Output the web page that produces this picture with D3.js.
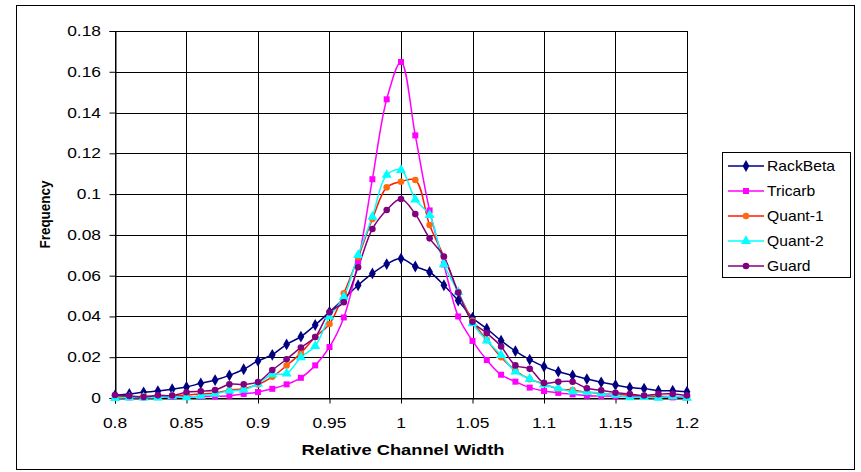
<!DOCTYPE html>
<html><head><meta charset="utf-8">
<script src="https://cdn.jsdelivr.net/npm/d3@7"></script>
<style>
html,body{margin:0;padding:0;background:#fff;}
svg{display:block;font-family:"Liberation Sans",Arial,sans-serif;}
</style></head>
<body><svg id="c" width="861" height="472"></svg>
<script>
const xValues = [0.80,0.81,0.82,0.83,0.84,0.85,0.86,0.87,0.88,0.89,0.90,0.91,0.92,0.93,0.94,0.95,0.96,0.97,0.98,0.99,1.00,1.01,1.02,1.03,1.04,1.05,1.06,1.07,1.08,1.09,1.10,1.11,1.12,1.13,1.14,1.15,1.16,1.17,1.18,1.19,1.20];
const rackBeta = [0.0013,0.0020,0.0028,0.0034,0.0043,0.0054,0.0072,0.0088,0.0111,0.0141,0.0182,0.0212,0.0263,0.0301,0.0358,0.0422,0.0487,0.0553,0.0611,0.0657,0.0684,0.0645,0.0618,0.0553,0.0478,0.0394,0.0340,0.0281,0.0230,0.0188,0.0154,0.0129,0.0111,0.0093,0.0077,0.0064,0.0051,0.0046,0.0036,0.0036,0.0031];
const tricarb = [0.0002,0.0003,0.0003,0.0004,0.0005,0.0006,0.0007,0.0008,0.0011,0.0020,0.0029,0.0045,0.0067,0.0099,0.0160,0.0250,0.0395,0.0668,0.1073,0.1465,0.1648,0.1288,0.0920,0.0655,0.0400,0.0280,0.0186,0.0114,0.0080,0.0051,0.0034,0.0025,0.0018,0.0011,0.0010,0.0008,0.0006,0.0005,0.0004,0.0003,0.0003];
const quant1 = [0.0005,0.0007,0.0008,0.0010,0.0012,0.0015,0.0020,0.0025,0.0038,0.0046,0.0066,0.0104,0.0159,0.0220,0.0299,0.0363,0.0513,0.0690,0.0878,0.1033,0.1061,0.1069,0.0848,0.0693,0.0521,0.0380,0.0284,0.0200,0.0135,0.0092,0.0069,0.0044,0.0039,0.0028,0.0023,0.0018,0.0015,0.0010,0.0008,0.0007,0.0005];
const quant2 = [0.0000,0.0002,0.0002,0.0002,0.0008,0.0003,0.0011,0.0020,0.0036,0.0040,0.0070,0.0116,0.0120,0.0200,0.0255,0.0399,0.0496,0.0701,0.0889,0.1094,0.1118,0.0973,0.0897,0.0656,0.0520,0.0366,0.0282,0.0210,0.0129,0.0094,0.0066,0.0048,0.0031,0.0029,0.0023,0.0016,0.0003,0.0004,0.0001,0.0008,0.0001];
const guard = [0.0015,0.0010,0.0005,0.0013,0.0012,0.0028,0.0033,0.0039,0.0067,0.0067,0.0078,0.0137,0.0190,0.0248,0.0299,0.0421,0.0470,0.0641,0.0829,0.0922,0.0976,0.0902,0.0783,0.0694,0.0517,0.0374,0.0318,0.0253,0.0160,0.0143,0.0074,0.0080,0.0080,0.0048,0.0038,0.0026,0.0020,0.0012,0.0019,0.0020,0.0012];
const seriesNames = ["RackBeta","Tricarb","Quant-1","Quant-2","Guard"];
const xTicks = [0.8,0.85,0.9,0.95,1,1.05,1.1,1.15,1.2];
const yTicks = [0,0.02,0.04,0.06,0.08,0.1,0.12,0.14,0.16,0.18];
const xTitle = "Relative Channel Width";
const yTitle = "Frequency";

const series = [
  {name:seriesNames[0], values:rackBeta, line:"#000080", fill:"#000080", sym:"diamond", size:40},
  {name:seriesNames[1], values:tricarb, line:"#ff00ff", fill:"#ff00ff", sym:"square", size:36},
  {name:seriesNames[2], values:quant1, line:"#ff1a00", fill:"#ff6a10", sym:"circle", size:34},
  {name:seriesNames[3], values:quant2, line:"#00ffff", fill:"#00ffff", sym:"triangle", size:44},
  {name:seriesNames[4], values:guard, line:"#800080", fill:"#800080", sym:"circle", size:34}
];
const symMap = {diamond:d3.symbolDiamond, square:d3.symbolSquare, circle:d3.symbolCircle, triangle:d3.symbolTriangle};
const fmt = d => String(+d.toFixed(2));

const svg = d3.select("#c");
svg.append("rect").attr("x",16.5).attr("y",5.5).attr("width",838).attr("height",464)
  .attr("fill","#fff").attr("stroke","#000").attr("stroke-width",1);

const L=115, R=687, T=31, B=398;
const x = d3.scaleLinear().domain([0.8,1.2]).range([L,R]);
const y = d3.scaleLinear().domain([0,0.18]).range([B,T]);

// stretched text helper (reference text is horizontally wide)
function stext(parent, tx, ty, str, size, sx, anchor, weight){
  return parent.append("text")
    .attr("transform",`translate(${tx},${ty}) scale(${sx},1)`)
    .attr("text-anchor",anchor).attr("font-size",size)
    .attr("font-weight",weight||"normal").attr("fill","#000").text(str);
}

const g = svg.append("g");
g.selectAll(".vg").data(xTicks).join("line")
  .attr("x1",d=>Math.round(x(d))+0.5).attr("x2",d=>Math.round(x(d))+0.5)
  .attr("y1",T).attr("y2",B).attr("stroke","#000").attr("stroke-width",1);
g.selectAll(".hg").data(yTicks).join("line")
  .attr("y1",d=>Math.round(y(d))+0.5).attr("y2",d=>Math.round(y(d))+0.5)
  .attr("x1",L).attr("x2",R).attr("stroke","#000").attr("stroke-width",1);

// axes (lines & ticks via d3 axis, labels stretched)
const xAxis = d3.axisBottom(x).tickValues(xTicks).tickFormat("").tickSize(5);
const yAxis = d3.axisLeft(y).tickValues(yTicks).tickFormat("").tickSize(6);
const xa = svg.append("g").attr("transform",`translate(0,${Math.round(B)+0.5})`).call(xAxis);
const ya = svg.append("g").attr("transform",`translate(${Math.round(L)+0.5},0)`).call(yAxis);
[xa,ya].forEach(a=>{
  a.selectAll("path.domain").attr("stroke","#000");
  a.selectAll(".tick line").attr("stroke","#000");
});
const labels = svg.append("g");
xTicks.forEach(t=>stext(labels, x(t), 428, fmt(t), 14.5, 1.2, "middle"));
yTicks.forEach(t=>stext(labels, 101, y(t)+5, fmt(t), 14.5, 1.2, "end"));

stext(svg, (L+R)/2+2, 455, xTitle, 15, 1.22, "middle", "bold");
svg.append("text").attr("transform",`translate(50,${(T+B)/2}) rotate(-90) scale(1,1.15)`).attr("text-anchor","middle")
  .attr("font-size",13.5).attr("font-weight","bold").text(yTitle);

const line = d3.line().x((d,i)=>x(xValues[i])).y(d=>y(d)).curve(d3.curveCatmullRom.alpha(0.5));
const plot = svg.append("g");
series.forEach(s=>{
  plot.append("path").attr("d",line(s.values)).attr("fill","none").attr("stroke",s.line).attr("stroke-width",1.5);
});
series.forEach(s=>{
  plot.selectAll(null).data(s.values).join("path")
    .attr("transform",(d,i)=>`translate(${x(xValues[i])},${y(d)})`)
    .attr("d",d3.symbol().type(symMap[s.sym]).size(s.size))
    .attr("fill",s.fill).attr("stroke","none");
});

// legend
const lg = svg.append("g");
lg.append("rect").attr("x",722.5).attr("y",152.5).attr("width",128).attr("height",125)
  .attr("fill","#fff").attr("stroke","#000").attr("stroke-width",1);
series.forEach((s,i)=>{
  const cy = 166 + i*25;
  lg.append("line").attr("x1",728).attr("x2",764).attr("y1",cy).attr("y2",cy).attr("stroke",s.line).attr("stroke-width",1.5);
  lg.append("path").attr("transform",`translate(746,${cy})`).attr("d",d3.symbol().type(symMap[s.sym]).size(s.size)).attr("fill",s.fill);
  stext(lg, 767, cy+5, s.name, 14, 1.12, "start");
});
</script></body></html>
